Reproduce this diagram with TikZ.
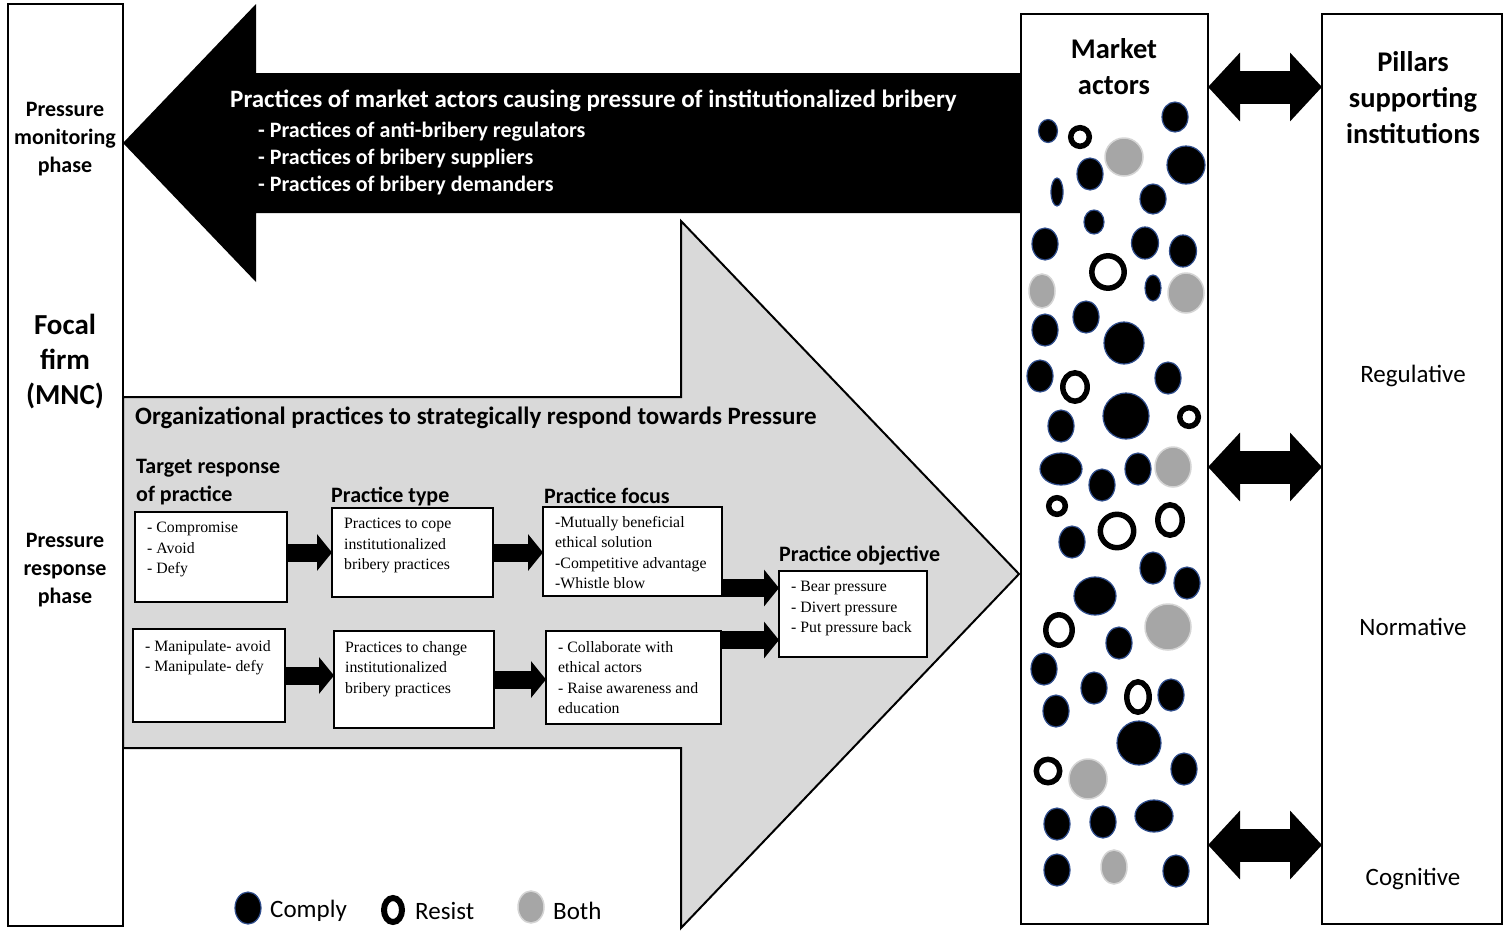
\documentclass[tikz,border=0pt]{standalone}
\usepackage{fontspec}
\setmainfont{Liberation Serif}
\setsansfont{Carlito}
\usetikzlibrary{arrows.meta, positioning, calc}
\definecolor{ShadeGray}{HTML}{D9D9D9}
\definecolor{BothGray}{HTML}{A6A6A6}
\definecolor{BothEdge}{HTML}{D4D4D4}
\definecolor{ComplyEdge}{HTML}{2F4D8C}
\newcommand{\setfs}[2]{\fontsize{#1}{#2}\selectfont}

\begin{document}
\begin{tikzpicture}[x=1pt, y=-1pt,
  panel/.style={draw, line width=2.5, fill=white, inner sep=0, outer sep=0, anchor=north west},
  practicebox/.style={draw, line width=2, fill=white, inner sep=0, outer sep=0, anchor=north west},
  boxtxt/.style={font=\rmfamily\setfs{15.8}{20.5}, align=left, inner sep=0, anchor=north west},
  headlbl/.style={font=\sffamily\bfseries\setfs{22}{28}, align=left, inner sep=0, anchor=west},
  phaselbl/.style={font=\sffamily\bfseries\setfs{22}{28}, align=center, inner sep=0},
  bigtitle/.style={font=\sffamily\bfseries\setfs{28.5}{36}, align=center, inner sep=0},
  pillarlbl/.style={font=\sffamily\setfs{25}{28}, inner sep=0},
  legendlbl/.style={font=\sffamily\setfs{25}{28}, inner sep=0, anchor=west},
  blockarrow/.style={line width=18, -{Triangle[length=15pt, width=36pt]}},
  linkarrow/.style={line width=33, {Triangle[length=32pt, width=67pt]}-{Triangle[length=32pt, width=67pt]}},
  comply/.style={fill=black, draw=ComplyEdge, line width=1.2},
  resist/.style={fill=white, draw=black, line width=5.5},
  both/.style={fill=BothGray, draw=BothEdge, line width=1.5}]

  \useasboundingbox (0,0) rectangle (1504,932);

  % --- response arrow (grey, pointing right) ---
  \filldraw[fill=ShadeGray, draw=black, line width=2]
    (123,397) -- (681,397) -- (681,221) -- (1019,574) -- (681,928) -- (681,748) -- (123,748) -- cycle;

  % --- pressure arrow (black, pointing left) ---
  \fill[black] (1021,73) -- (256,73) -- (256,4) -- (123,143) -- (256,282) -- (256,213) -- (1021,213) -- cycle;
  \node[headlbl, text=white, font=\sffamily\bfseries\setfs{25}{27}] (prestitle) at (230,101)
    {Practices of market actors causing pressure of institutionalized bribery};
  \node[headlbl, text=white, font=\sffamily\bfseries\setfs{22}{27}] (preslist) at (258,158)
    {- Practices of anti-bribery regulators\\- Practices of bribery suppliers\\- Practices of bribery demanders};

  % --- focal firm column ---
  \node[panel, minimum width=115, minimum height=922] (firm) at (8,4) {};
  \node[phaselbl] (monitor) at (65,139) {Pressure\\monitoring\\phase};
  \node[bigtitle, font=\sffamily\bfseries\setfs{29}{35}] (focal) at (65,362) {Focal\\firm\\(MNC)};
  \node[phaselbl] (respond) at (65,570) {Pressure\\response\\phase};

  % --- headings inside the grey arrow ---
  \node[headlbl, font=\sffamily\bfseries\setfs{25}{28}] (resptitle) at (135,418)
    {Organizational practices to strategically respond towards Pressure};
  \node[headlbl] (htarget) at (136,482) {Target response\\of practice};
  \node[headlbl] (htype) at (331,496) {Practice type};
  \node[headlbl] (hfocus) at (544,496) {Practice focus};
  \node[headlbl] (hobj) at (779,556) {Practice objective};

  % --- practice boxes ---
  \node[practicebox, minimum width=152, minimum height=90] (b1) at (135,512) {};
  \node[practicebox, minimum width=161, minimum height=89] (b2) at (332,508) {};
  \node[practicebox, minimum width=179, minimum height=89] (b3) at (543,507) {};
  \node[practicebox, minimum width=148, minimum height=86] (b4) at (779,571) {};
  \node[practicebox, minimum width=152, minimum height=93] (b5) at (133,629) {};
  \node[practicebox, minimum width=160, minimum height=97] (b6) at (334,631) {};
  \node[practicebox, minimum width=175, minimum height=93] (b7) at (546,631) {};

  \node[boxtxt] (b1t) at ([shift={(12,10)}]b1.north west) {- Compromise\\- Avoid\\- Defy};
  \node[boxtxt] (b2t) at ([shift={(12,10)}]b2.north west) {Practices to cope\\institutionalized\\bribery practices};
  \node[boxtxt] (b3t) at ([shift={(12,9)}]b3.north west) {-Mutually beneficial\\ethical solution\\-Competitive advantage\\-Whistle blow};
  \node[boxtxt] (b4t) at ([shift={(12,10)}]b4.north west) {- Bear pressure\\- Divert pressure\\- Put pressure back};
  \node[boxtxt] (b5t) at ([shift={(12,11)}]b5.north west) {- Manipulate- avoid\\- Manipulate- defy};
  \node[boxtxt] (b6t) at ([shift={(11,10)}]b6.north west) {Practices to change\\institutionalized\\bribery practices};
  \node[boxtxt] (b7t) at ([shift={(12,10)}]b7.north west) {- Collaborate with\\ethical actors\\- Raise awareness and\\education};

  \coordinate (obj1) at ([yshift=26pt]b4.west);
  \coordinate (obj2) at ([yshift=-26pt]b4.west);
  \draw[blockarrow] (b1.east |- b2.west) -- (b2.west);
  \draw[blockarrow] (b2.east) -- (b3.west |- b2.east);
  \draw[blockarrow] (b5.east) -- (b6.west |- b5.east);
  \draw[blockarrow] (b6.east) -- (b7.west |- b6.east);
  \draw[blockarrow] (b3.east |- obj1) -- (obj1);
  \draw[blockarrow] (b7.east |- obj2) -- (obj2);

  % --- market actors column ---
  \node[panel, minimum width=187, minimum height=910] (mkt) at (1021,14) {};
  \node[bigtitle] (mkttitle) at (1114,67) {Market\\actors};
  \foreach \x/\y/\a/\b in {1048/131/9.5/11.5, 1175/117/13/15, 1186/165/19/19, 1090/174/13/16,
      1057/192/6/14, 1153/199/13/15, 1094/222/10/12, 1045/244/13/16, 1145/243/13.5/16,
      1183/251/13.5/16, 1153/288/8/13, 1086/317/13/16, 1045/330/13/16, 1124/343/20/21,
      1040/376/13/16, 1168/378/13/16, 1126/416/23/23, 1061/426/13/16, 1061/469/21/16,
      1102/485/13/16, 1138/469/13/16, 1072/542/13/16, 1153/568/13/16, 1187/583/13/16,
      1095/596/21/19, 1119/643/13/16, 1044/669/13/16, 1094/688/13/16, 1171/695/13/16,
      1056/711/13/16, 1139/743/22/22, 1184/769/13/16, 1057/824/13/16, 1103/822/13/16,
      1154/816/19/16, 1057/870/13/16, 1176/871/13/16}
    \draw[comply] (\x,\y) ellipse [x radius=\a, y radius=\b];
  \foreach \x/\y/\a/\b in {1080/137/9.3/9.3, 1108/272/16.2/16.2, 1075/387/12.2/14.2,
      1189/417/9.3/9.3, 1057/506/8.3/8.3, 1117/531/16.7/16.7, 1170/520/12.2/15.2,
      1059/630/13.2/15.2, 1138/697/11.2/15.2, 1048/771/11.7/11.7}
    \draw[resist] (\x,\y) ellipse [x radius=\a, y radius=\b];
  \foreach \x/\y/\a/\b in {1124/157/19/19, 1042/291/13/17, 1186/293/18/20, 1173/467/18/20,
      1168/627/23/23, 1088/779/19/20, 1114/867/13/17}
    \draw[both] (\x,\y) ellipse [x radius=\a, y radius=\b];

  % --- pillars column ---
  \node[panel, minimum width=180, minimum height=910] (pil) at (1322,14) {};
  \node[bigtitle] (piltitle) at (1413,98) {Pillars\\supporting\\institutions};
  \node[pillarlbl] (regul) at (1413,376) {Regulative};
  \node[pillarlbl] (norm) at (1413,627) {Normative};
  \node[pillarlbl] (cogn) at (1413,879) {Cognitive};

  \coordinate (lk1) at (0,87);
  \coordinate (lk2) at (0,467);
  \coordinate (lk3) at (0,845);
  \draw[linkarrow] (mkt.east |- lk1) -- (pil.west |- lk1);
  \draw[linkarrow] (mkt.east |- lk2) -- (pil.west |- lk2);
  \draw[linkarrow] (mkt.east |- lk3) -- (pil.west |- lk3);

  % --- legend ---
  \draw[comply] (248,908) ellipse [x radius=13, y radius=16];
  \node[legendlbl] (lgcomply) at (270,911) {Comply};
  \draw[resist, line width=6] (393,910) ellipse [x radius=9, y radius=12];
  \node[legendlbl] (lgresist) at (415,911) {Resist};
  \draw[both] (531,907) ellipse [x radius=13, y radius=16];
  \node[legendlbl] (lgboth) at (553,911) {Both};
\end{tikzpicture}
\end{document}
